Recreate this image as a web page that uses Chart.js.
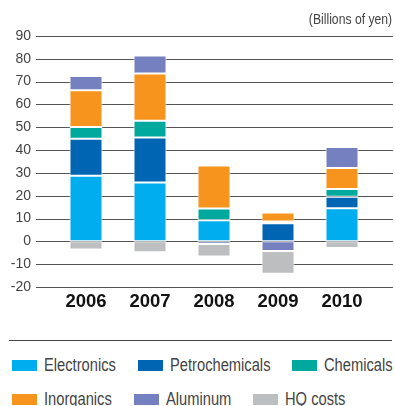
<!DOCTYPE html>
<html>
<head>
<meta charset="utf-8">
<script src="https://cdn.jsdelivr.net/npm/chart.js@4.4.1/dist/chart.umd.min.js"></script>
<style>
  html, body { margin: 0; padding: 0; background: #fff; }
  #wrap { position: relative; width: 395px; height: 406px; overflow: hidden;
          font-family: "Liberation Sans", Arial, sans-serif; color: #444; }
  #unit { position: absolute; right: 3px; top: 12px; font-size: 14.5px; line-height: 15px;
          transform: scaleX(0.84); transform-origin: right center; white-space: nowrap; }
  #chart { position: absolute; left: 0; top: 0; }
  #rule { position: absolute; left: 9px; top: 340px; width: 383px; border-top: 1px solid #444; }
  .row { position: absolute; left: 12px; font-size: 17.5px; line-height: 17px; white-space: nowrap; }
  .item { display: inline-block; margin-right: 22px; }
  .swatch { display: inline-block; width: 25px; height: 11px; margin-right: 7px; vertical-align: baseline; }
  .txt { display: inline-block; transform: scaleX(0.84); transform-origin: left center; }
</style>
</head>
<body>
<div id="wrap">
  <canvas id="chart" width="395" height="332"></canvas>
  <div id="unit">(Billions of yen)</div>
  <div id="rule"></div>
  <div class="row" id="row1" style="top:357px"></div>
  <div class="row" id="row2" style="top:391px"></div>
</div>
<script>
// -------- Data --------
const years = ["2006", "2007", "2008", "2009", "2010"];
const electronics    = [28.8, 25.8,  9.2,  0.0, 14.5];
const petrochemicals = [16.2, 19.7,  0.0,  7.9,  5.1];
const chemicals      = [ 5.1,  7.4,  5.2,  0.8,  3.4];
const inorganics     = [16.1, 20.7, 18.9,  4.0,  9.1];
const aluminum       = [ 6.3,  7.8, -1.2, -4.2,  9.3];
const hqCosts        = [-3.6, -4.8, -5.4, -10.0, -2.9];
const yTicks = [-20, -10, 0, 10, 20, 30, 40, 50, 60, 70, 80, 90];

const seriesNames  = ["Electronics", "Petrochemicals", "Chemicals", "Inorganics", "Aluminum", "HQ costs"];
const seriesColors = ["#00aeef", "#0066b3", "#00a99d", "#f7941d", "#7480c0", "#bcbec0"];
const seriesData   = [electronics, petrochemicals, chemicals, inorganics, aluminum, hqCosts];

// -------- Legend (HTML, condensed text) --------
seriesNames.forEach(function(name, i){
    let item = document.createElement("span");
    item.className = "item";
    let sw = document.createElement("span");
    sw.className = "swatch";
    sw.style.background = seriesColors[i];
    let txt = document.createElement("span");
    txt.className = "txt";
    txt.innerText = name;
    item.appendChild(sw);
    item.appendChild(txt);
    document.getElementById(i < 3 ? "row1" : "row2").appendChild(item);
    // scaleX does not shrink the layout box, so pull the next item in
    txt.style.marginRight = (-txt.offsetWidth * 0.16) + "px";
});

// grid lines run a bit past the plot on both sides
const gridLines = {
    id: "gridLines",
    beforeDatasetsDraw(chart){
        const ctx = chart.ctx;
        const y = chart.scales.y;
        const area = chart.chartArea;
        ctx.save();
        ctx.strokeStyle = "#555";
        ctx.lineWidth = 1;
        y.ticks.forEach(function(t){
            const py = Math.round(y.getPixelForValue(t.value)) + 0.5;
            ctx.beginPath();
            ctx.moveTo(area.left - 18, py);
            ctx.lineTo(area.right + 19, py);
            ctx.stroke();
        });
        ctx.restore();
    }
};

// -------- Chart --------
const ctx = document.getElementById("chart").getContext("2d");

new Chart(ctx, {
    type: "bar",
    data: {
        labels: years,
        datasets: seriesNames.map(function(name, i){
            return {
                label: name,
                data: seriesData[i],
                backgroundColor: seriesColors[i],
                borderColor: "#fff",
                borderWidth: 1,
                borderSkipped: false,
                barPercentage: 0.516,
                categoryPercentage: 1
            };
        })
    },
    options: {
        responsive: false,
        animation: false,
        devicePixelRatio: 1,
        layout: { padding: { top: 36, right: 21, left: 0, bottom: 0 } },
        plugins: {
            legend: { display: false },
            tooltip: { enabled: false }
        },
        scales: {
            x: {
                stacked: true,
                grid: { display: false, drawTicks: false },
                border: { display: false },
                ticks: {
                    color: "#111",
                    padding: 4,
                    font: { family: "'Liberation Sans', Arial", size: 18.5, weight: "bold" }
                },
                afterFit: function(scale){ scale.height = 45; }
            },
            y: {
                stacked: true,
                min: -20,
                max: 90,
                grid: { display: false, drawTicks: false },
                border: { display: false },
                afterBuildTicks: function(scale){
                    scale.ticks = yTicks.map(function(v){ return { value: v }; });
                },
                ticks: {
                    color: "#444",
                    padding: 23,
                    font: { family: "'Liberation Sans', Arial", size: 14 }
                },
                afterFit: function(scale){ scale.width = 54; }
            }
        }
    },
    plugins: [gridLines]
});
</script>
</body>
</html>
